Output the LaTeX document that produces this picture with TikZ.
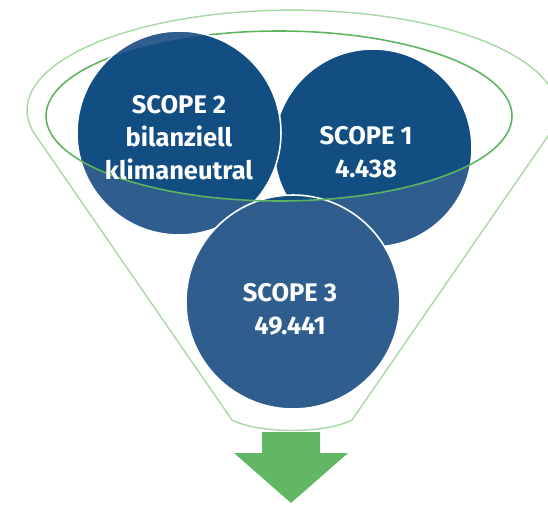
\documentclass[tikz,border=0pt]{standalone}
\usepackage{fontspec}
\setsansfont{Fira Sans}

\definecolor{scopedark}{HTML}{124E82}
\definecolor{scopelight}{HTML}{2F5E8E}
\definecolor{rimgreen}{HTML}{5DB55F}
\definecolor{funnelgreen}{HTML}{A8D8A3}
\definecolor{arrowgreen}{HTML}{62B765}

\tikzset{
  scopecircle/.style={draw=white, line width=0.9pt},
  scopetext/.style={text=white, align=center,
    font=\sffamily\bfseries\fontsize{14.5}{18.8}\selectfont},
  rim/.style={draw=rimgreen, line width=0.9pt},
  funnel/.style={draw=funnelgreen, line width=0.8pt},
}

\begin{document}
\begin{tikzpicture}[x=0.02cm, y=0.02cm]
		\useasboundingbox (0,0) rectangle (548,505);
		
		\coordinate (rimc) at (279,389);
		\coordinate (c1) at (373,357);
		\coordinate (c2) at (179,372);
		\coordinate (c3) at (293,203);
		
		%%% TRICHTER
		\draw[funnel] (548,369) arc[start angle=-15, end angle=195, x radius=265, y radius=100]
			-- (232,85) .. controls (260,71) and (324,71) .. (352,85) -- cycle;
		\draw[rim] (rimc) ++(233,0) arc[start angle=0, end angle=180, x radius=233, y radius=85];
		
		%%% KREISE
		\foreach \c/\r in {c1/99, c2/102, c3/107}
			\draw[scopecircle, fill=scopelight] (\c) circle[radius=\r];
		\begin{scope}
			\clip (rimc) ellipse[x radius=233, y radius=85];
			\foreach \c/\r in {c1/99, c2/102, c3/107}
				\draw[scopecircle, fill=scopedark] (\c) circle[radius=\r];
		\end{scope}
		\draw[rim] (rimc) ++(-233,0) arc[start angle=180, end angle=360, x radius=233, y radius=85];
		
		\node[scopetext] (scope2) at (179,367) {SCOPE 2\\bilanziell\\klimaneutral};
		\node[scopetext] (scope1) at (366,353) {SCOPE 1\\4.438};
		\node[scopetext] (scope3) at (290,196) {SCOPE 3\\49.441};
		
		%%% PFEIL
		\fill[arrowgreen] (262,73) -- (320,73) -- (320,52) -- (348,52) -- (291,2)
			-- (234,52) -- (262,52) -- cycle;
	\end{tikzpicture}
\end{document}
